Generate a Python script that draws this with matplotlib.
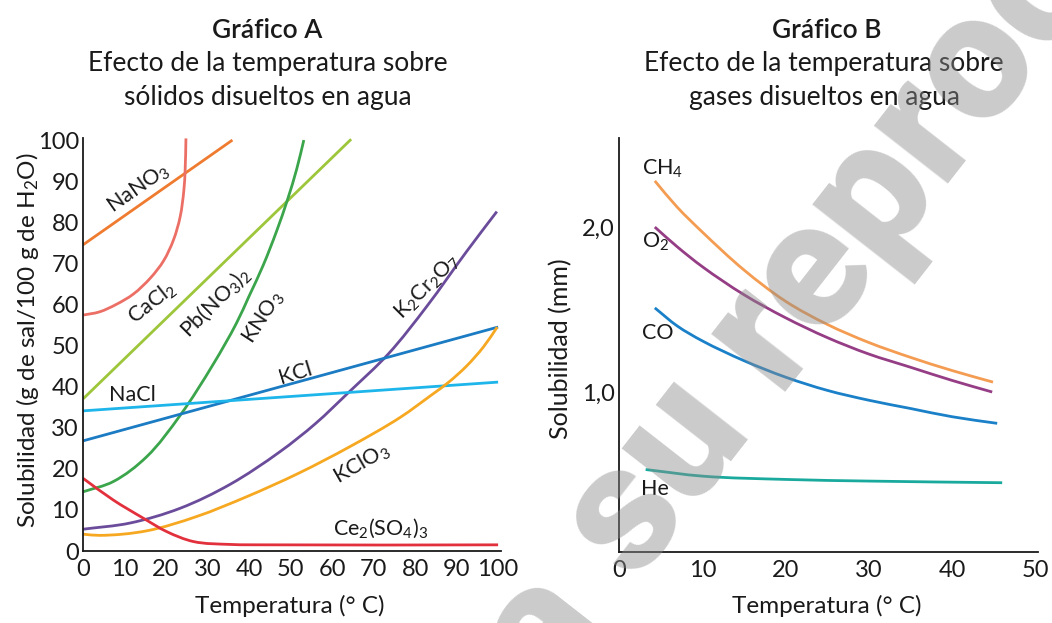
import math
import numpy as np
import matplotlib
matplotlib.use("Agg")
import matplotlib.pyplot as plt
from matplotlib.path import Path
from matplotlib.patches import PathPatch

plt.rcParams['font.family'] = ['Lato', 'DejaVu Sans']
plt.rcParams['mathtext.fontset'] = 'custom'
plt.rcParams['mathtext.rm'] = 'Lato'
plt.rcParams['mathtext.it'] = 'Lato'
plt.rcParams['mathtext.bf'] = 'Lato:bold'

# ---------------- Gráfico A data (temperature °C, solubility g/100 g H2O) -------------
nano3_t = [0, 36]
nano3_s = [74.5, 100]
cacl2_t = [0, 4.0, 8.0, 12.1, 16.3, 19.4, 21.8, 23.4, 24.3, 24.6, 24.8]
cacl2_s = [57.4, 58.2, 60.0, 62.5, 66.5, 70.6, 75.7, 81.3, 87.8, 92.5, 100.4]
pbno32_t = [0, 64.6]
pbno32_s = [37.0, 100.2]
kno3_t = [0, 7.3, 15.3, 23.4, 31.4, 37.0, 40.0, 43.4, 46.7, 49.3, 51.5, 53.2]
kno3_s = [14.4, 16.9, 22.9, 33.0, 45.5, 55.5, 62.0, 69.5, 78.0, 85.6, 93.0, 100.0]
k2cr2o7_t = [0, 11.3, 23.4, 35.4, 47.5, 56, 64, 73.6, 82.8, 92.5, 99.7]
k2cr2o7_s = [5.3, 6.8, 10.4, 16.2, 24.2, 31.0, 38.6, 48.0, 59.5, 73.0, 82.6]
kcl_t = [0, 100]
kcl_s = [26.8, 54.5]
nacl_t = [0, 100]
nacl_s = [34.1, 41.1]
kclo3_t = [0, 4, 15.3, 27.4, 39.4, 51.9, 64.3, 76.4, 84.0, 88.0, 92.4, 96.5, 99.8]
kclo3_s = [4.1, 3.8, 4.9, 8.4, 13.2, 18.9, 25.4, 32.5, 38.0, 41.0, 45.0, 49.7, 54.5]
ce2so43_t = [0, 7.3, 14.5, 20.2, 26.6, 35.4, 45, 100]
ce2so43_s = [17.7, 12.4, 8.0, 4.7, 2.3, 1.6, 1.5, 1.5]

# ---------------- Gráfico B data (temperature °C, solubility mm) -------------
ch4_t = [4.3, 7, 10, 15, 20, 25, 30, 35, 40, 44.9]
ch4_s = [2.28, 2.12, 1.97, 1.74, 1.55, 1.41, 1.30, 1.21, 1.13, 1.06]
o2_t = [4.3, 7, 10, 15, 20, 25, 30, 35, 40, 44.8]
o2_s = [2.00, 1.88, 1.76, 1.59, 1.45, 1.33, 1.23, 1.15, 1.07, 1.00]
co_t = [4.3, 7, 10, 15, 20, 25, 30, 35, 40, 45.4]
co_s = [1.51, 1.40, 1.31, 1.19, 1.09, 1.01, 0.95, 0.90, 0.85, 0.81]
he_t = [3.2, 10, 20, 30, 46]
he_s = [0.53, 0.49, 0.47, 0.46, 0.45]

xticks_a = list(range(0, 101, 10))
yticks_a = list(range(0, 101, 10))
xticks_b = list(range(0, 51, 10))
yticks_b = [1.0, 2.0]
yticklabels_b = ["1,0", "2,0"]

W, H = 1052, 623
fig = plt.figure(figsize=(W / 100, H / 100), dpi=100)

def px_axes(x0, y0, x1, y1):
    return fig.add_axes([x0 / W, 1 - y1 / H, (x1 - x0) / W, (y1 - y0) / H])

LW = 2.0
TICK_FS = 17

def style(ax):
    for s in ['top', 'right']:
        ax.spines[s].set_visible(False)
    for s in ['left', 'bottom']:
        ax.spines[s].set_linewidth(1.3)
        ax.spines[s].set_color('#1a1a1a')
    ax.tick_params(length=0, labelsize=TICK_FS, colors='#1a1a1a')
    ax.tick_params(axis='x', pad=6)
    ax.tick_params(axis='y', pad=3)

def curve(ax, xs, ys, color):
    """Smooth curve through the data points, drawn as cubic Bezier segments."""
    bb = ax.get_position()
    x0, x1 = ax.get_xlim()
    y0, y1 = ax.get_ylim()
    sx = bb.width * W / (x1 - x0)
    sy = bb.height * H / (y1 - y0)
    P = np.column_stack([np.asarray(xs, float) * sx, np.asarray(ys, float) * sy])
    n = len(P)
    verts = [P[0]]
    codes = [Path.MOVETO]
    if n == 2:
        verts.append(P[1]); codes.append(Path.LINETO)
    else:
        tang = []
        for i in range(n):
            if i == 0:
                d = P[1] - P[0]
            elif i == n - 1:
                d = P[-1] - P[-2]
            else:
                d = (P[i + 1] - P[i]) / np.linalg.norm(P[i + 1] - P[i]) + \
                    (P[i] - P[i - 1]) / np.linalg.norm(P[i] - P[i - 1])
            tang.append(d / np.linalg.norm(d))
        for i in range(n - 1):
            L = np.linalg.norm(P[i + 1] - P[i]) / 3.0
            verts += [P[i] + tang[i] * L, P[i + 1] - tang[i + 1] * L, P[i + 1]]
            codes += [Path.CURVE4] * 3
    V = np.array(verts)
    V[:, 0] /= sx
    V[:, 1] /= sy
    ax.add_patch(PathPatch(Path(V, codes), fill=False, edgecolor=color, lw=LW,
                           capstyle='butt', joinstyle='round'))

# ---------------- Gráfico A ----------------
axA = px_axes(83, 138, 501, 551)
style(axA)
axA.set_xlim(0, 100.7)
axA.set_ylim(0, 100.5)
axA.set_xticks(xticks_a)
axA.set_yticks(yticks_a)

curve(axA, nano3_t, nano3_s, '#ee7b2f')
curve(axA, cacl2_t, cacl2_s, '#ec6f66')
curve(axA, pbno32_t, pbno32_s, '#9dc63b')
curve(axA, kno3_t, kno3_s, '#3ba54b')
curve(axA, k2cr2o7_t, k2cr2o7_s, '#6b4c9b')
curve(axA, kcl_t, kcl_s, '#1b7bc3')
curve(axA, nacl_t, nacl_s, '#1db5ea')
curve(axA, kclo3_t, kclo3_s, '#f6a821')
curve(axA, ce2so43_t, ce2so43_s, '#e2303c')

LFS = 15.5
def lab(ax, x, y, s, rot, **kw):
    ax.text(x, y, s, rotation=rot, rotation_mode='anchor', ha=kw.get('ha', 'center'),
            va='center', fontsize=LFS, color='#1a1a1a')

lab(axA, 13.5, 88.1, r"NaNO$_3$", 35)
lab(axA, 16.6, 60.3, r"CaCl$_2$", 38)
lab(axA, 31.8, 60.6, r"Pb(NO$_3$)$_2$", 45)
lab(axA, 43.4, 56.7, r"KNO$_3$", 57)
lab(axA, 82.9, 64.2, r"K$_2$Cr$_2$O$_7$", 45)
lab(axA, 51.1, 43.3, r"KCl", 17)
lab(axA, 12.0, 38.0, r"NaCl", 0)
lab(axA, 67.2, 21.2, r"KClO$_3$", 30)
lab(axA, 71.8, 5.6, r"Ce$_2$(SO$_4$)$_3$", 0)

# ---------------- Gráfico B ----------------
axB = px_axes(619, 138, 1038, 552)
style(axB)
axB.set_xlim(0, 50.3)
axB.set_ylim(0.03, 2.54)
axB.set_xticks(xticks_b)
axB.set_yticks(yticks_b)
axB.set_yticklabels(yticklabels_b)

curve(axB, ch4_t, ch4_s, '#f39c52')
curve(axB, o2_t, o2_s, '#953d85')
curve(axB, co_t, co_s, '#1a80c8')
curve(axB, he_t, he_s, '#19aa9d')

lab(axB, 2.76, 2.35, r"CH$_4$", 0, ha='left')
lab(axB, 2.76, 1.91, r"O$_2$", 0, ha='left')
lab(axB, 2.76, 1.36, r"CO", 0, ha='left')
lab(axB, 2.64, 0.41, r"He", 0, ha='left')

# ---------------- titles / axis labels ----------------
def ftext(x, y, s, **kw):
    fig.text(x / W, 1 - y / H, s, ha='center', va='center', color='#1a1a1a', **kw)

TFS = 19
ftext(267.5, 31, "Gráfico A", fontsize=TFS, fontweight='semibold')
ftext(267.5, 64, "Efecto de la temperatura sobre", fontsize=TFS)
ftext(267.5, 97, "sólidos disueltos en agua", fontsize=TFS)
ftext(827, 31, "Gráfico B", fontsize=TFS, fontweight='semibold')
ftext(824, 64, "Efecto de la temperatura sobre", fontsize=TFS)
ftext(824.5, 97, "gases disueltos en agua", fontsize=TFS)

ftext(290, 606, "Temperatura (° C)", fontsize=17.5)
ftext(827, 606, "Temperatura (° C)", fontsize=17.5)
ftext(28, 340, r"Solubilidad (g de sal/100 g de H$_2$O)", fontsize=17.5, rotation=90)
ftext(561, 349, "Solubilidad (mm)", fontsize=18, rotation=90)

# ---------------- watermark ----------------
ang = 52
WFS = 128
ax0, ay0 = 636 / W, 1 - 584 / H
wm = dict(rotation=ang, rotation_mode='anchor', va='baseline', fontsize=WFS,
          fontweight='black', family=['Roboto', 'DejaVu Sans'], color='#8c8c8c',
          alpha=0.45, zorder=10)
fig.text(ax0, ay0, "su reproducción", ha='left', **wm)
gap = 32  # points
fig.text(ax0 - gap * math.cos(math.radians(ang)) * 100 / 72 / W,
         ay0 - gap * math.sin(math.radians(ang)) * 100 / 72 / H,
         "Prohibida", ha='right', **wm)

fig.savefig("out.png", dpi=100)
